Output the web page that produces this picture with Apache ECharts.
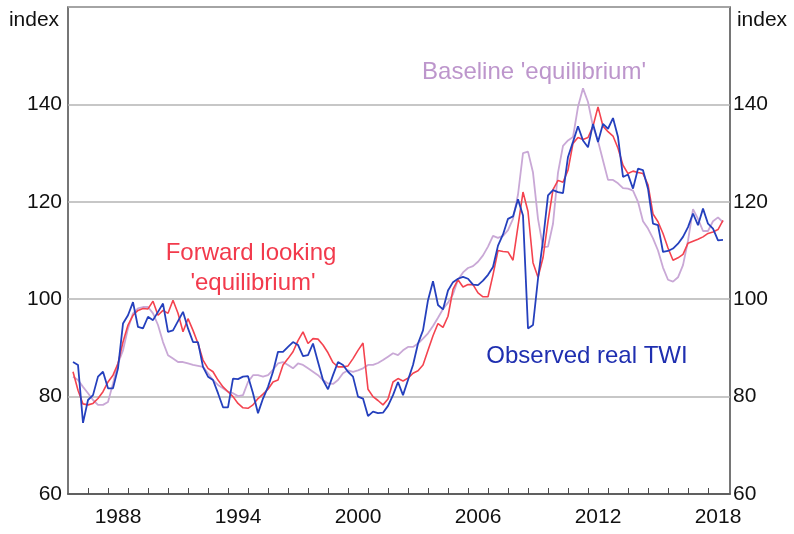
<!DOCTYPE html>
<html lang="en">
<head>
    <meta charset="UTF-8">
    <title>Real TWI and equilibrium</title>
    <script src="https://cdn.jsdelivr.net/npm/echarts@6/dist/echarts.min.js"></script>
    <style>
        html, body { margin: 0; padding: 0; background: #fff; }
    </style>
</head>
<body>
    <div id="main" style="width:794px;height:534px;"></div>

    <script>
        // quarterly data, first quarter plotted at 1986.25
        const startYear = 1986.25;

        const observedTWI = [
            87.1, 86.5, 74.6, 79.3, 80.3, 84.1, 85.1, 81.7, 81.7, 85.8,
            95.0, 96.7, 99.4, 94.3, 94.0, 96.4, 95.7, 97.4, 99.1, 93.3,
            93.6, 95.5, 97.4, 94.0, 91.2, 91.2, 86.1, 84.1, 83.4, 80.7,
            77.8, 77.8, 83.7, 83.6, 84.1, 84.2, 80.7, 76.6, 79.6, 82.0,
            85.1, 89.2, 89.2, 90.2, 91.2, 90.6, 88.3, 88.5, 90.9, 87.1,
            83.4, 81.5, 84.4, 87.1, 86.5, 85.1, 84.1, 80.0, 79.6, 76.0,
            76.9, 76.6, 76.7, 78.1, 80.3, 83.0, 80.3, 83.4, 86.5, 90.9,
            93.6, 99.8, 103.7, 98.8, 97.9, 101.8, 103.5, 104.2, 104.6, 104.2,
            103.0, 102.9, 103.8, 105.0, 106.6, 111.0, 113.3, 116.5, 117.0, 120.5,
            117.2, 94.0, 94.7, 104.2, 112.1, 121.3, 122.4, 122.0, 121.8, 129.2,
            132.3, 135.5, 132.6, 131.2, 136.0, 132.3, 136.0, 135.0, 137.2, 133.3,
            125.1, 125.6, 122.7, 126.8, 126.5, 122.7, 115.5, 115.2, 109.7, 109.9,
            110.4, 111.4, 112.8, 114.8, 117.6, 115.2, 118.6, 115.5, 114.5, 112.1,
            112.2
        ];

        const forwardEquilibrium = [
            85.1, 81.3, 78.5, 78.3, 78.6, 79.6, 81.0, 83.0, 84.4, 86.8,
            91.2, 94.7, 96.7, 97.7, 98.1, 98.0, 99.6, 96.7, 97.7, 97.1,
            99.8, 97.1, 93.3, 96.0, 93.6, 90.9, 87.5, 85.8, 85.1, 83.4,
            82.0, 81.0, 80.0, 78.6, 77.7, 77.6, 78.3, 79.6, 80.5, 81.5,
            83.0, 83.4, 86.5, 87.8, 89.2, 91.5, 93.3, 90.9, 91.9, 91.8,
            90.6, 89.0, 87.0, 86.1, 86.1, 86.3, 87.8, 89.5, 91.0, 81.5,
            80.0, 79.2, 78.3, 79.5, 83.0, 83.7, 83.2, 83.8, 84.8, 85.3,
            86.5, 89.5, 92.5, 95.0, 94.2, 96.5, 102.0, 104.0, 102.5, 103.0,
            103.0, 101.3, 100.5, 100.5, 105.0, 110.0, 109.8, 109.7, 108.0, 115.0,
            122.0, 118.0, 107.5, 104.5, 108.5, 116.0, 122.5, 124.4, 124.0, 126.5,
            132.0, 133.2, 132.8, 133.2, 135.5, 139.5, 135.5, 134.4, 133.5, 131.0,
            127.5, 125.8, 126.3, 126.0, 125.8, 123.5, 117.5, 115.9, 113.5, 110.5,
            108.0, 108.5, 109.2, 111.5, 111.9, 112.3, 112.8, 113.5, 113.8, 114.3,
            116.2
        ];

        const baselineEquilibrium = [
            84.1, 83.4, 82.0, 80.7, 79.3, 78.3, 78.3, 78.9, 82.7, 86.8,
            89.5, 94.0, 97.1, 98.1, 98.4, 98.4, 97.1, 94.7, 91.2, 88.5,
            87.8, 87.1, 87.1, 86.8, 86.5, 86.3, 86.1, 84.8, 83.4, 82.4,
            81.7, 81.0, 80.7, 80.1, 80.3, 83.0, 84.4, 84.4, 84.1, 84.4,
            85.5, 86.8, 87.1, 86.5, 85.8, 86.8, 86.5, 85.8, 85.1, 84.4,
            83.4, 82.7, 82.6, 83.4, 84.8, 85.4, 85.1, 85.4, 85.8, 86.5,
            86.5, 86.9, 87.5, 88.2, 88.9, 88.5, 89.5, 90.2, 90.2, 90.9,
            91.9, 93.0, 94.5, 96.2, 98.0, 99.3, 101.0, 104.0, 105.5, 106.4,
            106.8, 107.7, 109.0, 110.8, 113.0, 112.6, 113.0, 114.2, 116.5, 121.5,
            130.0, 130.3, 126.0, 116.5, 110.7, 110.8, 115.5, 126.0, 131.5, 132.6,
            133.3, 139.5, 143.3, 140.5, 135.5, 132.5, 128.5, 124.5, 124.5, 123.8,
            122.8, 122.7, 122.3, 120.0, 116.0, 114.5, 112.5, 110.0, 106.5, 104.0,
            103.6, 104.5, 107.0, 112.0, 118.5, 116.5, 114.0, 114.0, 116.0, 116.8,
            115.8
        ];

        const labelYears = [1988, 1994, 2000, 2006, 2012, 2018];
        const tickYears = [];
        for (let y = 1987; y <= 2018; y++) tickYears.push(y);

        function toPairs(values) {
            return values.map(function (v, i) { return [startYear + i * 0.25, v]; });
        }

        const fontFamily = '"Liberation Sans", Arial, sans-serif';

        const option = {
            animation: false,
            backgroundColor: '#fff',
            textStyle: { fontFamily: fontFamily },
            grid: {
                left: 68, right: 64, top: 7, bottom: 40,
                show: true, borderColor: '#4a4a4a', borderWidth: 1.5
            },
            xAxis: {
                type: 'value',
                min: 1986, max: 2019.1,
                axisLine: { show: true, lineStyle: { color: '#4a4a4a', width: 1.5 } },
                axisTick: {
                    show: true, inside: true, length: 6,
                    customValues: tickYears,
                    lineStyle: { color: '#4a4a4a', width: 1 }
                },
                axisLabel: {
                    customValues: labelYears.map(function (y) { return y + 0.5; }),
                    formatter: function (v) { return String(Math.floor(v)); },
                    fontSize: 21, color: '#111', margin: 13, fontFamily: fontFamily
                },
                splitLine: { show: false }
            },
            yAxis: [
                {
                    type: 'value', min: 60, max: 160, interval: 20,
                    axisLine: { show: false },
                    axisTick: { show: false },
                    axisLabel: {
                        fontSize: 21, color: '#111', margin: 6, fontFamily: fontFamily,
                        formatter: function (v) { return v === 160 ? '' : String(v); }
                    },
                    splitLine: { show: true, lineStyle: { color: '#b5b5b5', width: 1.5 } }
                },
                {
                    type: 'value', min: 60, max: 160, interval: 20, position: 'right',
                    axisLine: { show: false },
                    axisTick: { show: false },
                    axisLabel: {
                        fontSize: 21, color: '#111', margin: 3, fontFamily: fontFamily,
                        formatter: function (v) { return v === 160 ? '' : String(v); }
                    },
                    splitLine: { show: false }
                }
            ],
            graphic: [
                { type: 'text', x: 34, y: 20, style: { text: 'index', fontSize: 21, fontFamily: fontFamily, fill: '#111', align: 'center', verticalAlign: 'middle' } },
                { type: 'text', x: 762, y: 20, style: { text: 'index', fontSize: 21, fontFamily: fontFamily, fill: '#111', align: 'center', verticalAlign: 'middle' } },
                { type: 'text', x: 534, y: 72, style: { text: "Baseline 'equilibrium'", fontSize: 24, fontFamily: fontFamily, fill: '#bd96cc', align: 'center', verticalAlign: 'middle' } },
                { type: 'text', x: 251, y: 253, style: { text: 'Forward looking', fontSize: 24, fontFamily: fontFamily, fill: '#f23a4c', align: 'center', verticalAlign: 'middle' } },
                { type: 'text', x: 253, y: 283, style: { text: "'equilibrium'", fontSize: 24, fontFamily: fontFamily, fill: '#f23a4c', align: 'center', verticalAlign: 'middle' } },
                { type: 'text', x: 587, y: 356, style: { text: 'Observed real TWI', fontSize: 24, fontFamily: fontFamily, fill: '#1f2fb0', align: 'center', verticalAlign: 'middle' } }
            ],
            series: [
                {
                    name: "Baseline 'equilibrium'", type: 'line', showSymbol: false,
                    lineStyle: { color: '#c9a8d6', width: 1.8 },
                    data: toPairs(baselineEquilibrium)
                },
                {
                    name: "Forward looking 'equilibrium'", type: 'line', showSymbol: false,
                    lineStyle: { color: '#f4434f', width: 1.6 },
                    data: toPairs(forwardEquilibrium)
                },
                {
                    name: 'Observed real TWI', type: 'line', showSymbol: false,
                    lineStyle: { color: '#2540bd', width: 1.8 },
                    data: toPairs(observedTWI)
                }
            ]
        };

        var myChart = echarts.init(document.getElementById('main'));
        myChart.setOption(option);
    </script>
</body>
</html>
